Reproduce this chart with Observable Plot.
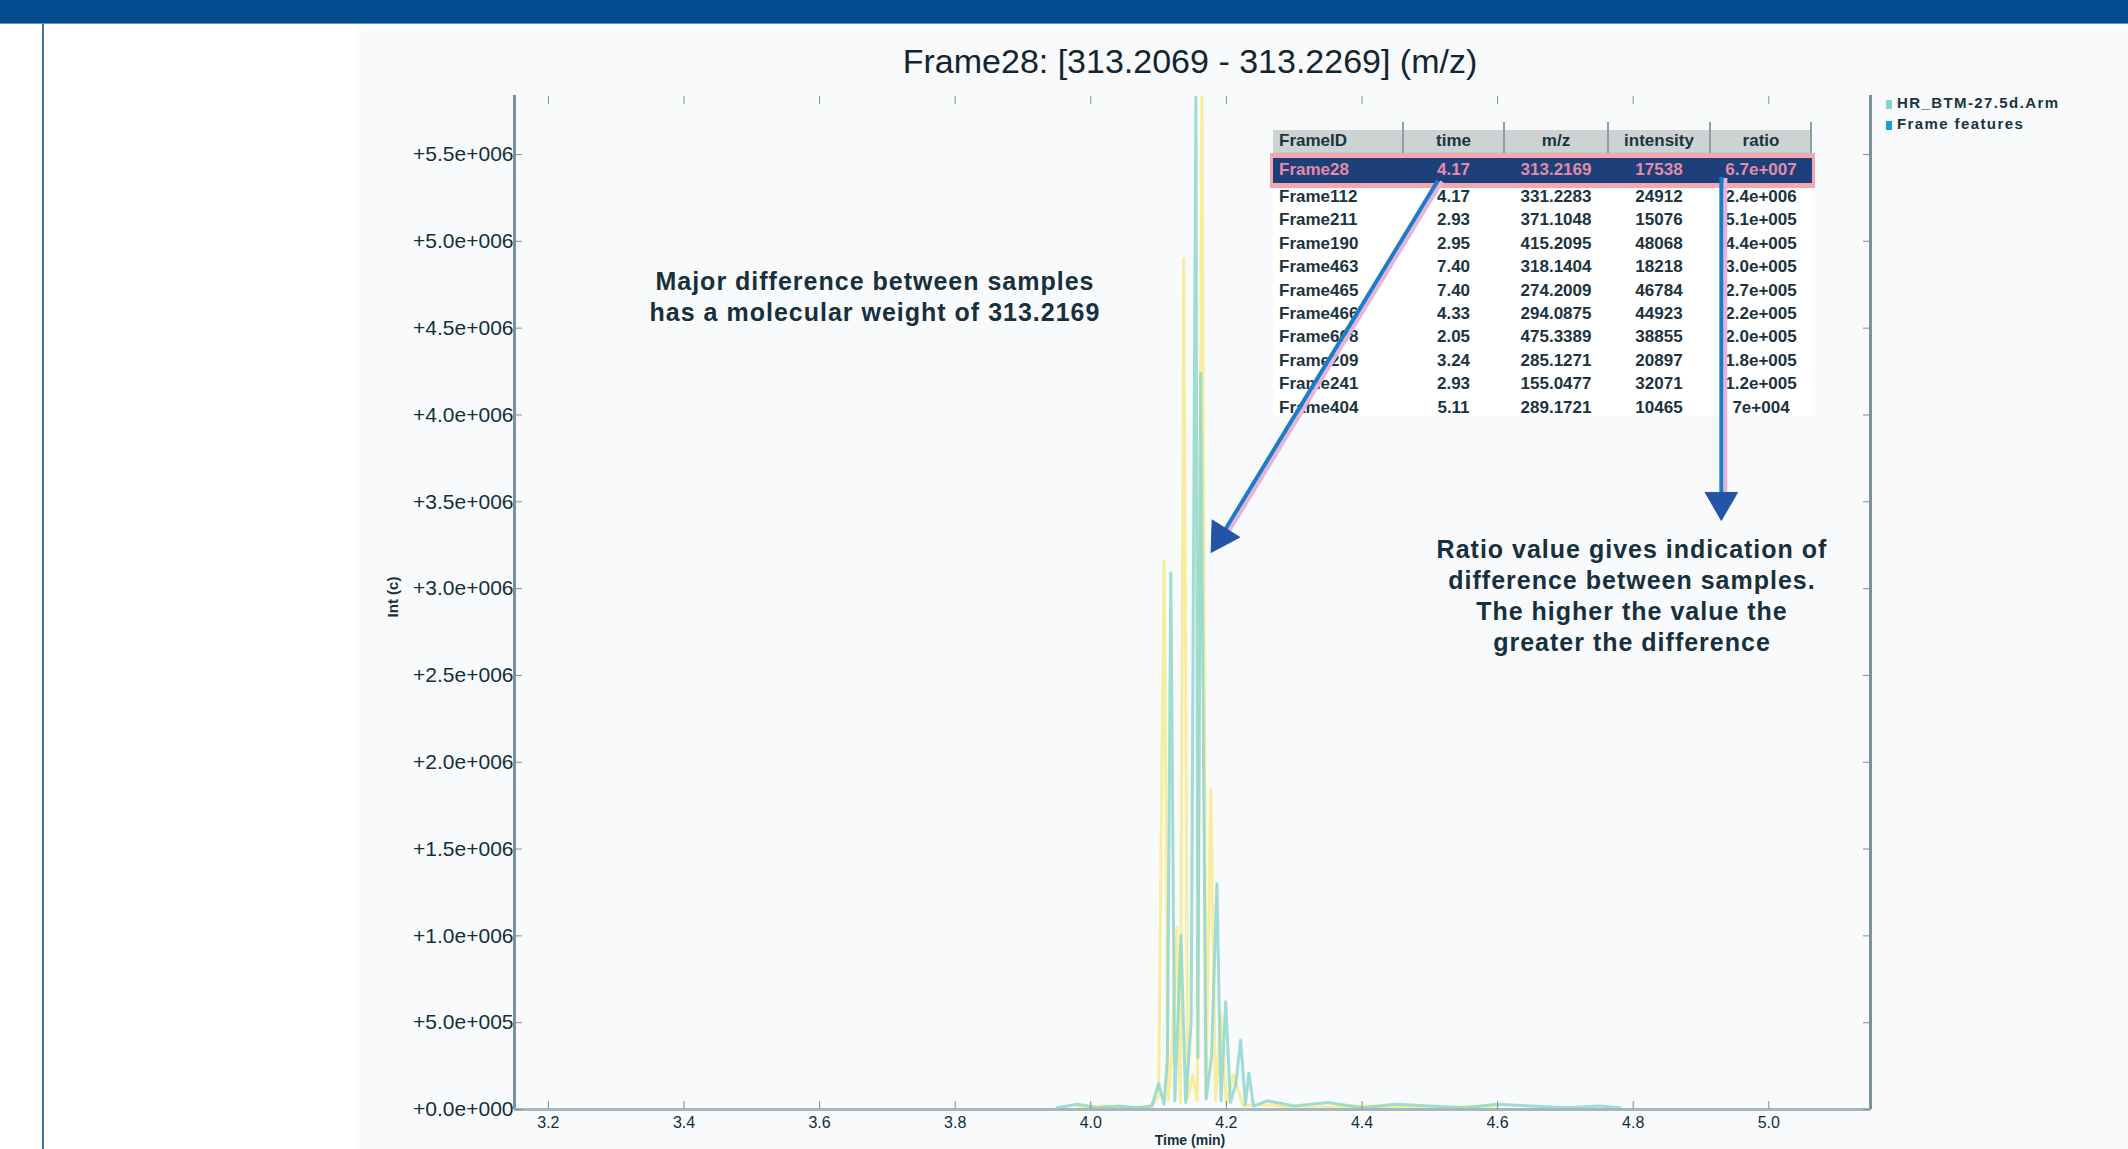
<!DOCTYPE html>
<html>
<head>
<meta charset="utf-8">
<script src="https://cdn.jsdelivr.net/npm/d3@7"></script>
<script src="https://cdn.jsdelivr.net/npm/@observablehq/plot@0.6"></script>
<style>
  html, body { margin: 0; padding: 0; background: #fff; }
  #page { position: relative; width: 2128px; height: 1149px; overflow: hidden; background: #fff;
          font-family: "Liberation Sans", Arial, sans-serif; color: #15303b; }
  #banner { position: absolute; left: 0; top: 0; width: 2128px; height: 23px; background: #034a8f; border-bottom: 1px solid #6a90bd; }
  #leftline { position: absolute; left: 42px; top: 24px; width: 2px; height: 1125px; background: #4271a8; }
  #panel { position: absolute; left: 356px; top: 25px; right: 0; bottom: 0; background: #f8fafc; }
  #chart { position: absolute; left: 0; top: 0; pointer-events: none; }
  .txt { position: absolute; white-space: nowrap; }
  #title { left: 1190px; top: 44px; transform: translateX(-50%); font-size: 34px; line-height: 34px; color: #13262f; }
  .note { transform: translateX(-50%); font-size: 25px; line-height: 31px; letter-spacing: 1px; font-weight: bold; text-align: center; color: #17303c; }
  #ytitle { left: 392px; top: 597px; transform: translate(-50%, -50%) rotate(-90deg); font-size: 15px; font-weight: bold; }
  #xtitle { left: 1190px; top: 1133px; transform: translateX(-50%); font-size: 14px; line-height: 15px; font-weight: bold; }
  #table { position: absolute; left: 1273px; top: 122px; width: 539px; }
  #table .hdr { position: absolute; left: 0; top: 8px; width: 539px; height: 22px; background: #cdd3d3; border-bottom: 2px solid #a9d3e2; }
  #table .sep { position: absolute; top: 0; width: 2px; height: 31px; background: #8d9ea6; }
  #table .cell { position: absolute; font-size: 17px; font-weight: bold; line-height: 22px; text-align: center; color: #1d3440; }
  #table .body { position: absolute; left: 0; top: 32px; width: 539px; height: 262px; background: #ffffff; }
  #table .hl { position: absolute; left: -3px; top: 31px; width: 539px; height: 25px; background: #1d3f7a; border: 5px solid #f4a7b0; border-left-width: 3px; border-right-width: 3px; }
  #legend { left: 1886px; top: 92px; font-size: 15px; font-weight: bold; line-height: 21px; letter-spacing: 1.4px; color: #1a3440; }
  #legend .sw { display: inline-block; width: 6px; height: 9px; margin-right: 5px; vertical-align: middle; }
</style>
</head>
<body>
<div id="page">
  <div id="banner"></div>
  <div id="leftline"></div>
  <div id="panel"></div>
  <div id="table"></div>
  <div id="chartwrap"></div>
  <div id="title" class="txt"></div>
  <div id="note1" class="txt note" style="left:875px; top:266px;"></div>
  <div id="note2" class="txt note" style="left:1632px; top:534px;"></div>
  <div id="ytitle" class="txt"></div>
  <div id="xtitle" class="txt"></div>
  <div id="legend" class="txt"></div>
</div>
<script>
// ---------------- DATA ----------------
const chartTitle = "Frame28: [313.2069 - 313.2269] (m/z)";
const xAxisTitle = "Time (min)";
const yAxisTitle = "Int (c)";

const xDomain = [3.15, 5.15];
const yDomain = [0, 5.84e6];
const xTicks = [3.2, 3.4, 3.6, 3.8, 4.0, 4.2, 4.4, 4.6, 4.8, 5.0];
const yTicks = [0, 0.5e6, 1.0e6, 1.5e6, 2.0e6, 2.5e6, 3.0e6, 3.5e6, 4.0e6, 4.5e6, 5.0e6, 5.5e6];

// Extracted ion chromatogram, series 1 (teal): time (min) and intensity (millions)
const tealTime = [3.95, 3.98, 4.01, 4.04, 4.07, 4.090, 4.100, 4.108, 4.113, 4.118,
                  4.124, 4.133, 4.140, 4.148, 4.155, 4.158, 4.162, 4.170, 4.178, 4.186,
                  4.192, 4.199, 4.206, 4.214, 4.221, 4.228, 4.233, 4.240, 4.26, 4.30,
                  4.35, 4.40, 4.45, 4.50, 4.55, 4.60, 4.65, 4.70, 4.75, 4.78];
const tealIntensityM = [0.01, 0.03, 0.01, 0.02, 0.01, 0.02, 0.15, 0.03, 0.30, 3.09,
                        0.05, 1.00, 0.04, 0.50, 5.83, 0.30, 4.24, 0.06, 0.30, 1.30,
                        0.05, 0.62, 0.04, 0.15, 0.40, 0.03, 0.21, 0.02, 0.05, 0.02,
                        0.04, 0.01, 0.03, 0.02, 0.01, 0.03, 0.02, 0.01, 0.02, 0.01];

// Series 2 (yellow)
const yellowTime = [3.98, 4.02, 4.06, 4.090, 4.100, 4.108, 4.114, 4.120, 4.127, 4.132,
                    4.137, 4.143, 4.150, 4.157, 4.164, 4.170, 4.177, 4.184, 4.192, 4.200,
                    4.210, 4.225, 4.25, 4.30, 4.40, 4.50, 4.60];
const yellowIntensityM = [0.01, 0.02, 0.01, 0.02, 0.08, 3.16, 0.05, 0.35, 1.05, 0.04,
                          4.90, 0.06, 0.20, 0.05, 5.83, 0.08, 1.84, 0.05, 0.55, 0.03,
                          0.20, 0.02, 0.03, 0.01, 0.02, 0.01, 0.02];

const seriesNames = ["HR_BTM-27.5d.Arm", "Frame features"];
const seriesColors = ["#8ad4cb", "#f5ec9a"];
const legendSwatch = ["#8ad4cb", "#169fdc"];

// Frame table
const tableHeaders = ["FrameID", "time", "m/z", "intensity", "ratio"];
const frameIds    = ["Frame28", "Frame112", "Frame211", "Frame190", "Frame463", "Frame465", "Frame466", "Frame608", "Frame209", "Frame241", "Frame404"];
const frameTimes  = ["4.17", "4.17", "2.93", "2.95", "7.40", "7.40", "4.33", "2.05", "3.24", "2.93", "5.11"];
const frameMz     = ["313.2169", "331.2283", "371.1048", "415.2095", "318.1404", "274.2009", "294.0875", "475.3389", "285.1271", "155.0477", "289.1721"];
const frameInt    = ["17538", "24912", "15076", "48068", "18218", "46784", "44923", "38855", "20897", "32071", "10465"];
const frameRatio  = ["6.7e+007", "2.4e+006", "5.1e+005", "4.4e+005", "3.0e+005", "2.7e+005", "2.2e+005", "2.0e+005", "1.8e+005", "1.2e+005", "7e+004"];

// Annotations
const note1Lines = ["Major difference between samples", "has a molecular weight of 313.2169"];
const note2Lines = ["Ratio value gives indication of", "difference between samples.", "The higher the value the", "greater the difference"];
// arrows in data units (time, intensity): start, head position, head rotation (deg)
const arrowX1 = [4.512, 4.930];
const arrowY1 = [5.35e6, 5.37e6];
const arrowX2 = [4.192, 4.930];
const arrowY2 = [3.30e6, 3.50e6];
const arrowAngle = [211.9, 180];

// ---------------- BUILD ----------------
const teal = tealTime.map((t, i) => ({time: t, intensity: tealIntensityM[i] * 1e6}));
const yellow = yellowTime.map((t, i) => ({time: t, intensity: yellowIntensityM[i] * 1e6}));
const arrows = arrowX1.map((x, i) => ({x1: x, y1: arrowY1[i], x2: arrowX2[i], y2: arrowY2[i], angle: arrowAngle[i]}));

const sci = v => {
  let [m, e] = v.toExponential(1).split("e");
  const sign = v < 0 ? "-" : "+";
  m = m.replace("-", "");
  return sign + m + "e" + e[0] + e.slice(1).padStart(3, "0");
};

const axisColor = "#7d919b";
const labelColor = "#12303b";

const chart = Plot.plot({
  width: 2128,
  height: 1149,
  marginLeft: 514,
  marginRight: 258,
  marginTop: 95,
  marginBottom: 40,
  style: {background: "transparent", overflow: "visible", fontFamily: "Liberation Sans, Arial, sans-serif"},
  x: {domain: xDomain, label: null},
  y: {domain: yDomain, label: null},
  marks: [
    Plot.line(yellow, {x: "time", y: "intensity", stroke: seriesColors[1], strokeWidth: 3, strokeOpacity: 0.95}),
    Plot.line(teal, {x: "time", y: "intensity", stroke: seriesColors[0], strokeWidth: 3, strokeOpacity: 0.8}),
    Plot.ruleX(xDomain, {stroke: axisColor, strokeWidth: 3}),
    Plot.ruleY([yDomain[0]], {stroke: "#a7b7bf", strokeWidth: 3}),
    Plot.axisX({ticks: xTicks, tickFormat: d3.format(".1f"), tickSize: -8, tickPadding: 15,
                fontSize: 16, stroke: axisColor, fill: labelColor, label: null}),
    Plot.axisX({anchor: "top", ticks: xTicks, tickSize: -8, tickFormat: () => "", stroke: axisColor, label: null}),
    Plot.axisY({ticks: yTicks, tickFormat: sci, tickSize: -8, tickPadding: 9,
                fontSize: 21, stroke: axisColor, fill: labelColor, label: null}),
    Plot.axisY({anchor: "right", ticks: yTicks, tickSize: -8, tickFormat: () => "", stroke: axisColor, label: null}),
    // arrows (shadow + shaft + head)
    Plot.link(arrows, {x1: "x1", y1: "y1", x2: "x2", y2: "y2", stroke: "#e6b4d6", strokeWidth: 4, dx: 4, dy: 1}),
    Plot.link(arrows, {x1: "x1", y1: "y1", x2: "x2", y2: "y2", stroke: "#1e7bc9", strokeWidth: 4}),
    Plot.dot(arrows, {x: "x2", y: "y2", symbol: "triangle", r: 12, rotate: "angle", fill: "#2553a6", stroke: "#2553a6", strokeWidth: 1})
  ]
});
chart.id = "chart";
document.getElementById("chartwrap").appendChild(chart);

// texts
document.getElementById("title").textContent = chartTitle;
document.getElementById("note1").innerHTML = note1Lines.map(s => `<div>${s}</div>`).join("");
document.getElementById("note2").innerHTML = note2Lines.map(s => `<div>${s}</div>`).join("");
document.getElementById("ytitle").textContent = yAxisTitle;
document.getElementById("xtitle").textContent = xAxisTitle;
document.getElementById("legend").innerHTML = seriesNames.map((n, i) =>
  `<div><span class="sw" style="background:${legendSwatch[i]}"></span>${n}</div>`).join("");

// table
const colLeft = [0, 130, 231, 335, 437];
const colWidth = [130, 101, 104, 102, 102];
const table = document.getElementById("table");
let html = `<div class="body"></div><div class="hdr"></div><div class="hl"></div>`;
colLeft.slice(1).forEach(l => { html += `<div class="sep" style="left:${l - 1}px"></div>`; });
html += `<div class="sep" style="left:${539 - 2}px"></div>`;
tableHeaders.forEach((h, c) => {
  const align = c === 0 ? "left" : "center";
  const pad = c === 0 ? 6 : 0;
  html += `<div class="cell" style="left:${colLeft[c] + pad}px; width:${colWidth[c] - pad}px; top:8px; text-align:${align}">${h}</div>`;
});
const rowTop = i => i === 0 ? 37 : 64 + (i - 1) * 23.4;
const cols = [frameIds, frameTimes, frameMz, frameInt, frameRatio];
frameIds.forEach((_, i) => {
  cols.forEach((col, c) => {
    const align = c === 0 ? "left" : "center";
    const pad = c === 0 ? 6 : 0;
    const color = i === 0 ? "color:#e58aa9;" : "";
    html += `<div class="cell" style="left:${colLeft[c] + pad}px; width:${colWidth[c] - pad}px; top:${rowTop(i)}px; text-align:${align}; ${color}">${col[i]}</div>`;
  });
});
table.innerHTML = html;
</script>
</body>
</html>
